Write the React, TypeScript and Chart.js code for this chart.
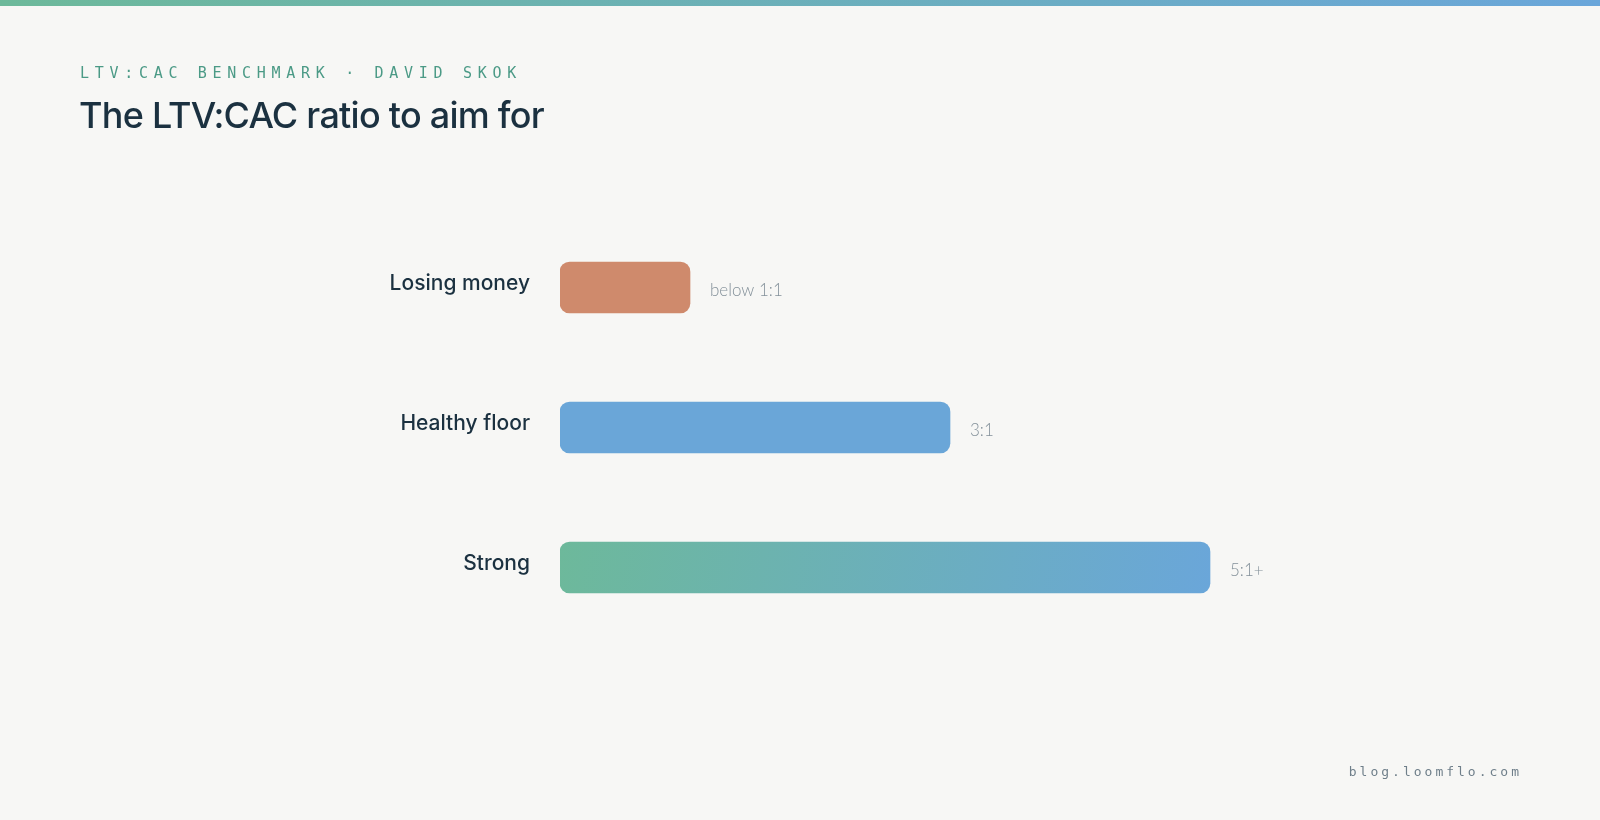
import React, { useEffect, useRef } from "react";
import { Chart, registerables } from "chart.js";

Chart.register(...registerables);

const categories = ["Losing money", "Healthy floor", "Strong"];
const ratioValues = [1, 3, 5];
const valueLabels = ["below 1:1", "3:1", "5:1+"];
const solidColors = ["#cf8a6c", "#6aa6d8", null];
const gradientStops = ["#6db99a", "#6aa6da"];
const xMax = 6;

const kicker = "LTV:CAC BENCHMARK · DAVID SKOK";
const title = "The LTV:CAC ratio to aim for";
const footer = "blog.loomflo.com";

const W = 1600;
const H = 820;

const decorPlugin = {
  id: "decor",
  beforeDraw(chart: any) {
    const ctx = chart.ctx;
    ctx.save();
    ctx.fillStyle = "#f7f7f5";
    ctx.fillRect(0, 0, W, H);
    const g = ctx.createLinearGradient(0, 0, W, 0);
    g.addColorStop(0, gradientStops[0]);
    g.addColorStop(1, gradientStops[1]);
    ctx.fillStyle = g;
    ctx.fillRect(0, 0, W, 6);

    ctx.fillStyle = "#4b9a86";
    ctx.font = "15px 'DejaVu Sans Mono', monospace";
    (ctx as any).letterSpacing = "5.7px";
    ctx.textBaseline = "alphabetic";
    ctx.textAlign = "left";
    ctx.fillText(kicker, 80, 78);

    (ctx as any).letterSpacing = "-0.75px";
    ctx.fillStyle = "#1b3140";
    ctx.font = "500 36px Inter, sans-serif";
    ctx.fillText(title, 79, 128);

    (ctx as any).letterSpacing = "3px";
    ctx.fillStyle = "#6f7f8a";
    ctx.font = "13px 'DejaVu Sans Mono', monospace";
    ctx.textAlign = "right";
    ctx.fillText(footer, 1522, 776);
    ctx.restore();
  },
  afterDatasetsDraw(chart: any) {
    const ctx = chart.ctx;
    const meta = chart.getDatasetMeta(0);
    ctx.save();
    meta.data.forEach((bar: any, i: number) => {
      ctx.textBaseline = "alphabetic";
      ctx.textAlign = "right";
      ctx.fillStyle = "#1b3140";
      ctx.font = "500 21px Inter, sans-serif";
      ctx.fillText(categories[i], 530, bar.y + 2);

      ctx.textAlign = "left";
      ctx.fillStyle = "#84919a";
      ctx.font = "300 17px Lato, sans-serif";
      ctx.fillText(valueLabels[i], bar.x + 20, bar.y + 8.5);
    });
    ctx.restore();
  },
};

export default function App() {
  const ref = useRef<HTMLCanvasElement | null>(null);

  useEffect(() => {
    document.body.style.margin = "0";
    const canvas = ref.current;
    if (!canvas) return;
    const chart = new Chart(canvas, {
      type: "bar",
      data: {
        labels: categories,
        datasets: [
          {
            data: ratioValues,
            backgroundColor: (c: any) => {
              const col = solidColors[c.dataIndex];
              if (col) return col;
              const ch = c.chart;
              const xs = ch.scales?.x;
              const ys = ch.scales?.y;
              if (!xs || !ys || !ch.chartArea) return gradientStops[1];
              const x0 = xs.getPixelForValue(0);
              const x1 = xs.getPixelForValue(ratioValues[c.dataIndex]);
              const yc = ys.getPixelForValue(c.dataIndex);
              const g = ch.ctx.createLinearGradient(x0, yc - 60, x1, yc + 60);
              g.addColorStop(0, gradientStops[0]);
              g.addColorStop(1, gradientStops[1]);
              return g;
            },
            borderRadius: 10,
            borderSkipped: false,
            barThickness: 51,
          },
        ],
      },
      options: {
        indexAxis: "y",
        responsive: false,
        animation: false,
        layout: { padding: { left: 560, right: 260, top: 217.5, bottom: 182.5 } },
        scales: {
          x: { display: false, min: 0, max: xMax },
          y: { display: false },
        },
        plugins: { legend: { display: false }, tooltip: { enabled: false } },
      },
      plugins: [decorPlugin],
    });
    return () => chart.destroy();
  }, []);

  return (
    <div style={{ position: "fixed", left: 0, top: 0, width: W, height: H, background: "#f7f7f5" }}>
      <canvas ref={ref} width={W} height={H} style={{ display: "block", width: W, height: H }} />
    </div>
  );
}
